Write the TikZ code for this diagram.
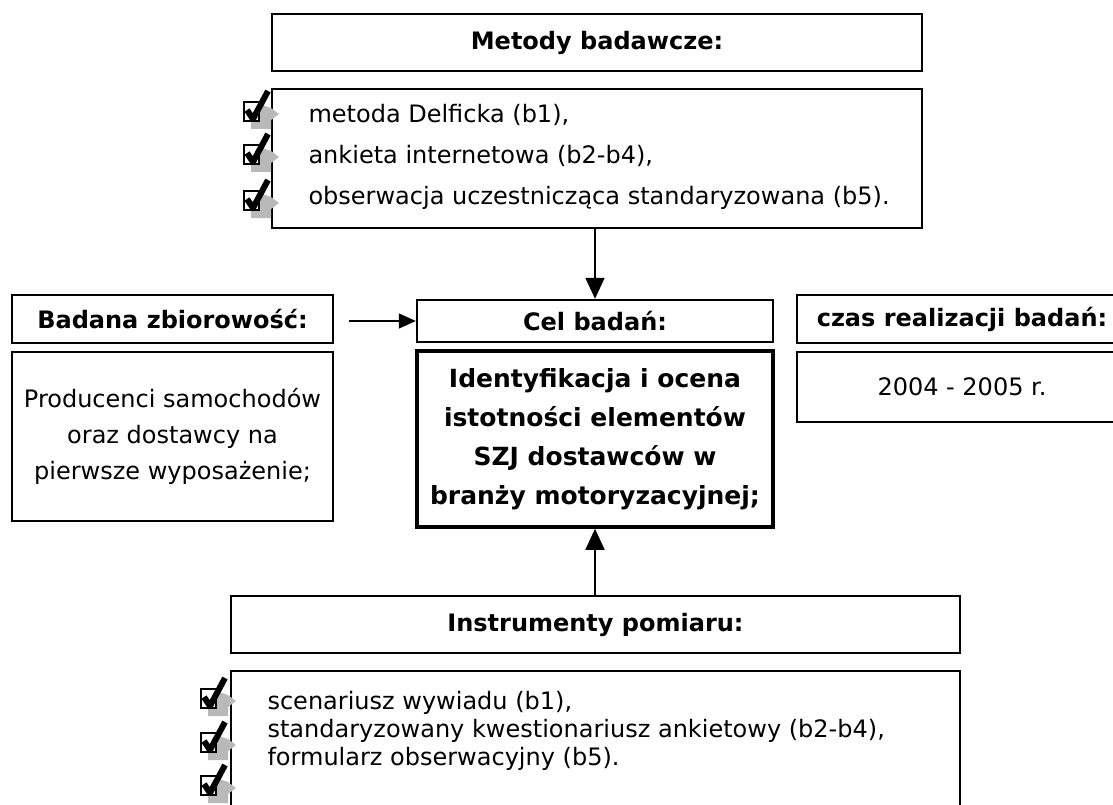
\documentclass[tikz,border=0pt]{standalone}
\usepackage{fontspec}
\setmainfont{DejaVu Sans}
\usetikzlibrary{arrows.meta}

\tikzset{
  box/.style={draw, line width=1.8pt, inner sep=0pt, align=center,
    font=\fontsize{24}{38}\selectfont},
  hd/.style={box, font=\fontsize{24}{30}\selectfont\bfseries},
  arr/.style={line width=1.8pt, -{Triangle[length=21pt,width=19pt]}},
  chk/.pic={
    \fill[gray!55] (-4,-6) -- (8,-2) -- (16,4) -- (8,10) -- (8,19) -- (-12,19) -- (-12,11) -- (-4,11) -- cycle;
    \draw[line width=2pt, fill=white] (-19,-8) rectangle (-4,11);
    \draw[line width=6pt, line join=round] (-16,0) -- (-10,9) -- (5,-19);
  }
}

\begin{document}
\begin{tikzpicture}[x=1pt, y=-1pt]
  \useasboundingbox (0,0) rectangle (1113,805);
  \clip (0,0) rectangle (1113,805);
  % metody
  \node[hd, minimum width=650pt, minimum height=57pt] (Met) at (597,42.5) {Metody badawcze:};
  \node[box, minimum width=650pt, minimum height=139pt] (MetL) at (597,158.5) {};
  \node[align=left, anchor=west, font=\fontsize{24}{41}\selectfont] (MetT) at (305,157)
    {metoda Delficka (b1),\\ankieta internetowa (b2-b4),\\obserwacja uczestnicząca standaryzowana (b5).};
  \foreach \y in {110,153,199}
    \pic at (263,\y) {chk};
  % srodek
  \node[hd, minimum width=321pt, minimum height=48pt] (Bad) at (172.5,319) {Badana zbiorowość:};
  \node[box, minimum width=321pt, minimum height=169pt, font=\fontsize{24}{36}\selectfont] (Prod) at (172.5,436.5)
    {Producenci samochodów\\oraz dostawcy na\\pierwsze wyposażenie;};
  \node[hd, line width=2.4pt, minimum width=356pt, minimum height=42pt] (Cel) at (595,321) {Cel badań:};
  \node[hd, line width=3.5pt, minimum width=356pt, minimum height=176pt, font=\fontsize{25}{39}\selectfont\bfseries] (Id) at (595,439)
    {Identyfikacja i ocena\\istotności elementów\\SZJ dostawców w\\branży motoryzacyjnej;};
  \node[hd, minimum width=330pt, minimum height=48pt] (Czas) at (962,319) {czas realizacji badań:};
  \node[box, minimum width=330pt, minimum height=70pt] (Lata) at (962,387) {2004 - 2005 r.};
  % instrumenty
  \node[hd, minimum width=729pt, minimum height=57pt] (Ins) at (595.5,624.5) {Instrumenty pomiaru:};
  \node[box, minimum width=729pt, minimum height=160pt] (InsL) at (595.5,751) {};
  \node[align=left, anchor=west, font=\fontsize{24}{28}\selectfont] (InsT) at (264,731)
    {scenariusz wywiadu (b1),\\standaryzowany kwestionariusz ankietowy (b2-b4),\\formularz obserwacyjny (b5).};
  \foreach \y in {697,741,784}
    \pic at (220,\y) {chk};
  % strzalki
  \coordinate (BadE) at ([xshift=15pt]Bad.east);
  \draw[arr] (MetL.south -| Cel.north) -- (Cel.north);
  \draw[line width=1.4pt, -{Triangle[length=17pt,width=15pt]}] (BadE |- Cel.west) -- (Cel.west);
  \draw[arr] (Ins.north -| Id.south) -- (Id.south);
\end{tikzpicture}
\end{document}
